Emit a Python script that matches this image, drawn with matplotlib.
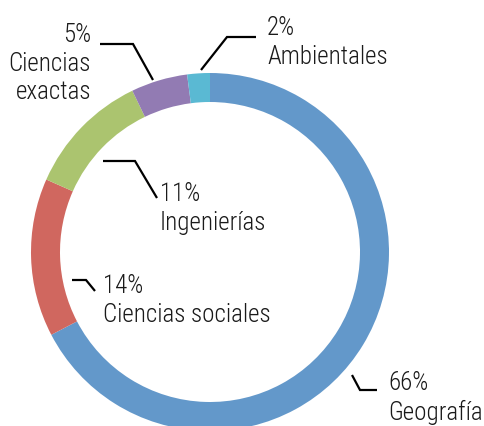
import matplotlib
matplotlib.use("Agg")
import matplotlib.pyplot as plt

# ------------------------------
# Data
# ------------------------------
categories = ["Geografía", "Ciencias sociales", "Ingenierías", "Ciencias exactas", "Ambientales"]
percents   = [66, 14, 11, 5, 2]
colors     = ["#6398CA", "#D0675F", "#ABC46F", "#927BB3", "#5AB9D3"]

# label layout, in pixels from the top-left corner
# (text x, text y, alignment, leader line xs, leader line ys)
label_layout = {
    "Geografía":         (388, 371, "left",  [352, 360, 377], [375, 390, 390]),
    "Ciencias sociales": (103, 274, "left",  [72, 86, 95],    [280, 280, 291]),
    "Ingenierías":       (160, 182, "left",  [103, 135, 157], [161, 161, 198]),
    "Ciencias exactas":  (91, 23,   "right", [100, 133, 153], [44, 44, 80]),
    "Ambientales":       (267, 16,  "left",  [201, 227, 256], [70, 37, 37]),
}
label_text = {
    "Ciencias exactas": "Ciencias\nexactas",
}

W, H = 485, 426
CX, CY, R, RING = 210, 252, 179, 29

plt.rcParams['font.family'] = ['Roboto Condensed', 'DejaVu Sans']

fig = plt.figure(figsize=(W / 100, H / 100), dpi=100)
fig.patch.set_facecolor("white")
ax = fig.add_axes([0, 0, 1, 1])

ax.pie(percents, colors=colors, startangle=90, counterclock=False,
       center=(CX, H - CY), radius=R, frame=True,
       wedgeprops=dict(width=RING, edgecolor="none"))
ax.set_xlim(0, W)
ax.set_ylim(0, H)
ax.set_aspect("auto")
ax.axis("off")

for cat, pct in zip(categories, percents):
    tx, ty, ha, lx, ly = label_layout[cat]
    ax.plot(lx, [H - v for v in ly], color="black", lw=1.6,
            solid_capstyle="butt", solid_joinstyle="miter")
    name = label_text.get(cat, cat)
    ax.text(tx, H - ty, f"{pct}%\n{name}", ha=ha, va="top", weight=300,
            multialignment=ha, fontsize=18, linespacing=1.24, color="#1a1a1a")

fig.savefig("out.png", dpi=100)
